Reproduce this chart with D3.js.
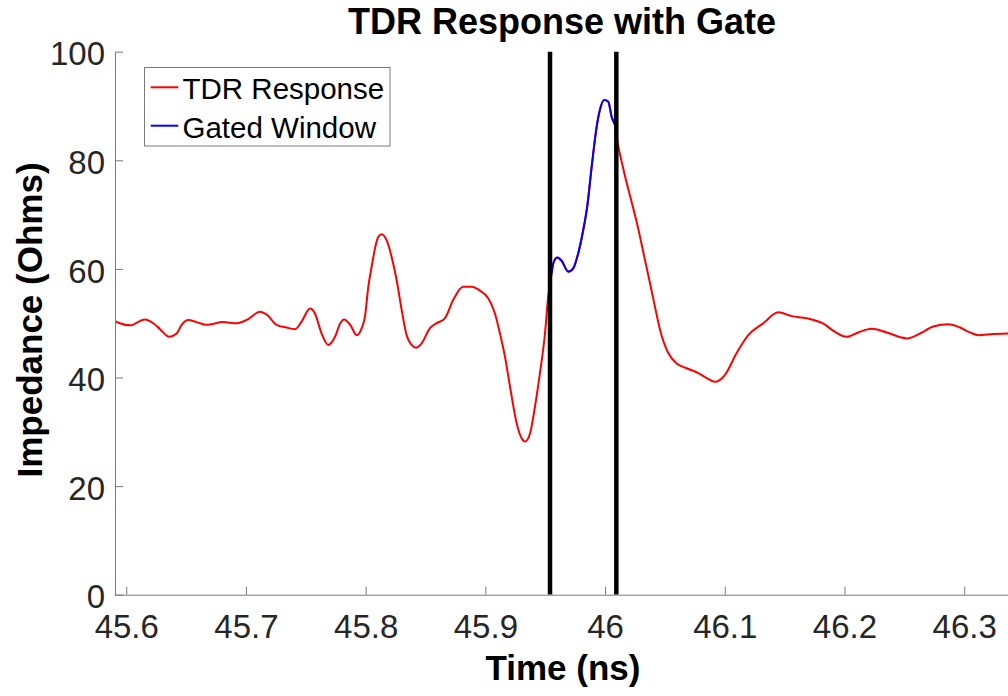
<!DOCTYPE html>
<html>
<head>
<meta charset="utf-8">
<script src="https://cdn.jsdelivr.net/npm/d3@7"></script>
<style>
  html, body { margin: 0; padding: 0; background: #fff; }
  svg { display: block; font-family: "Liberation Sans", Arial, Helvetica, sans-serif; }
</style>
</head>
<body>
<svg id="chart" width="1008" height="696"></svg>
<script>
// TDR trace (time in ns, impedance in ohms)
const timeNs = [
  45.5897, 45.5947, 45.6031, 45.6156, 45.6226, 45.6282, 45.6359, 45.6421, 45.6463, 45.6518,
  45.6588, 45.6672, 45.6810, 45.6922, 45.7006, 45.7117, 45.7173, 45.7256, 45.7340, 45.7409,
  45.7465, 45.7535, 45.7576, 45.7632, 45.7688, 45.7744, 45.7788, 45.7821, 45.7871, 45.7925,
  45.7967, 45.7994, 45.8022, 45.8050, 45.8078, 45.8105, 45.8134, 45.8175, 45.8217, 45.8259,
  45.8301, 45.8342, 45.8384, 45.8420, 45.8468, 45.8537, 45.8593, 45.8662, 45.8732, 45.8815,
  45.8885, 45.8955, 45.9024, 45.9080, 45.9122, 45.9164, 45.9206, 45.9261, 45.9303, 45.9331,
  45.9373, 45.9414, 45.9456, 45.9498, 45.9525, 45.9554, 45.9567, 45.9601, 45.9637, 45.9693,
  45.9734, 45.9776, 45.9818, 45.9851, 45.9888, 45.9930, 45.9957, 45.9993, 46.0027, 46.0055,
  46.0083, 46.0102, 46.0158, 46.0222, 46.0275, 46.0319, 46.0375, 46.0417, 46.0459,
  46.0528, 46.0598, 46.0682, 46.0779, 46.0849, 46.0918, 46.1002, 46.1099, 46.1196, 46.1322,
  46.1447, 46.1559, 46.1684, 46.1823, 46.1921, 46.2018, 46.2115, 46.2227, 46.2353, 46.2520,
  46.2631, 46.2742, 46.2867, 46.2965, 46.3048, 46.3118, 46.3243, 46.3366, 46.3420
];
const impedance = [
  50.5, 50.0, 49.6, 50.7, 50.0, 48.9, 47.5, 48.1, 49.7, 50.6,
  50.2, 49.7, 50.2, 50.0, 50.6, 52.1, 51.6, 49.7, 49.2, 48.9,
  50.3, 52.7, 51.8, 48.1, 46.0, 47.5, 50.0, 50.7, 49.7, 47.8,
  49.1, 51.2, 56.7, 60.4, 63.8, 65.9, 66.4, 65.3, 62.2, 57.9,
  52.4, 47.8, 46.0, 45.5, 46.3, 49.1, 50.0, 50.9, 54.3, 56.7,
  56.7, 56.0, 54.6, 51.8, 48.1, 43.8, 38.3, 31.6, 28.8, 28.2,
  29.7, 34.6, 40.8, 48.1, 54.9, 59.2, 61.0, 62.1, 61.5, 59.5,
  60.1, 62.9, 67.2, 71.5, 78.8, 86.2, 89.3, 91.1, 90.8, 88.0,
  86.5, 83.7, 77.9, 72.3, 67.6, 63.1, 57.4, 53.0, 48.8,
  44.5, 42.6, 41.7, 40.8, 39.9, 39.2, 40.5, 44.5, 47.8, 50.0,
  52.0, 51.3, 50.9, 49.9, 48.4, 47.5, 48.3, 49.0, 48.3, 47.2,
  48.1, 49.4, 49.8, 49.2, 48.3, 47.8, 48.0, 48.1, 48.1
];
const gateTimes = [45.954, 46.0094];
const xTicks = [45.6, 45.7, 45.8, 45.9, 46.0, 46.1, 46.2, 46.3];
const yTicks = [0, 20, 40, 60, 80, 100];
const legendLabels = ["TDR Response", "Gated Window"];
const legendColors = ["#ff0000", "#0000ff"];

const svg = d3.select("#chart");
const plot = { left: 115, right: 1008, top: 51.7, bottom: 594.7 };
const axisGray = "#7a7a7a";
const textDark = "#262626";

const x = d3.scaleLinear().domain([45.5906, 46.3366]).range([plot.left, plot.right]);
const y = d3.scaleLinear().domain([0, 100]).range([plot.bottom, plot.top]);

const points = timeNs.map((t, i) => ({ t: t, z: impedance[i] }));
const gated = points.filter(d => d.t >= gateTimes[0] && d.t <= gateTimes[1]);

svg.append("defs").append("clipPath").attr("id", "clip")
  .append("rect")
  .attr("x", plot.left).attr("y", 0)
  .attr("width", plot.right - plot.left).attr("height", plot.bottom);

const line = d3.line()
  .x(d => x(d.t))
  .y(d => y(d.z))
  .curve(d3.curveMonotoneX);

const g = svg.append("g").attr("clip-path", "url(#clip)");

g.append("path")
  .datum(points)
  .attr("fill", "none")
  .attr("stroke", legendColors[0])
  .attr("stroke-width", 2)
  .attr("d", line);

g.append("path")
  .datum(gated)
  .attr("fill", "none")
  .attr("stroke", legendColors[1])
  .attr("stroke-width", 2)
  .attr("d", line);

// gate markers
g.selectAll(".gate")
  .data(gateTimes)
  .enter()
  .append("line")
  .attr("class", "gate")
  .attr("x1", d => x(d)).attr("x2", d => x(d))
  .attr("y1", y(0)).attr("y2", y(100))
  .attr("stroke", "#000")
  .attr("stroke-width", 4.5);

// axes (MATLAB style: ticks inside, box off)
const xAxis = svg.append("g")
  .attr("transform", `translate(0,${plot.bottom})`)
  .call(d3.axisBottom(x).tickValues(xTicks).tickFormat(d3.format("~g"))
    .tickSizeInner(-8).tickSizeOuter(0).tickPadding(20));

const yAxis = svg.append("g")
  .attr("transform", `translate(${plot.left},0)`)
  .call(d3.axisLeft(y).tickValues(yTicks)
    .tickSizeInner(-8).tickSizeOuter(0).tickPadding(10));

[xAxis, yAxis].forEach(a => {
  a.select(".domain").attr("stroke", axisGray).attr("stroke-width", 1);
  a.selectAll(".tick line").attr("stroke", axisGray).attr("stroke-width", 1);
  a.selectAll(".tick text")
    .attr("fill", textDark)
    .style("font-size", "33px")
    .style("font-family", "'Liberation Sans', Arial, sans-serif");
});
yAxis.selectAll(".tick text").attr("dy", "0.4em");

// title and axis labels
svg.append("text")
  .attr("x", 562).attr("y", 33.5)
  .attr("text-anchor", "middle")
  .style("font-size", "36px")
  .style("font-weight", "bold")
  .attr("fill", "#000")
  .text("TDR Response with Gate");

svg.append("text")
  .attr("x", 563).attr("y", 680)
  .attr("text-anchor", "middle")
  .style("font-size", "35px")
  .style("font-weight", "bold")
  .attr("fill", "#000")
  .text("Time (ns)");

svg.append("text")
  .attr("transform", "translate(42,320) rotate(-90)")
  .attr("text-anchor", "middle")
  .style("font-size", "35px")
  .style("font-weight", "bold")
  .attr("fill", "#000")
  .text("Impedance (Ohms)");

// legend
const legend = svg.append("g").attr("class", "legend");
legend.append("rect")
  .attr("x", 144.5).attr("y", 67.5)
  .attr("width", 245.5).attr("height", 78.5)
  .attr("fill", "#fff")
  .attr("stroke", axisGray)
  .attr("stroke-width", 1);

const items = legend.selectAll(".legend-item")
  .data(legendLabels)
  .enter()
  .append("g")
  .attr("class", "legend-item")
  .attr("transform", (d, i) => `translate(0,${i * 38.4})`);

items.append("line")
  .attr("x1", 150.7).attr("x2", 178.3)
  .attr("y1", 87.3).attr("y2", 87.3)
  .attr("stroke", (d, i) => legendColors[i])
  .attr("stroke-width", 2);

items.append("text")
  .attr("x", 182.5).attr("y", 99.3)
  .style("font-size", "29.5px")
  .attr("fill", "#000")
  .text(d => d);
</script>
</body>
</html>
